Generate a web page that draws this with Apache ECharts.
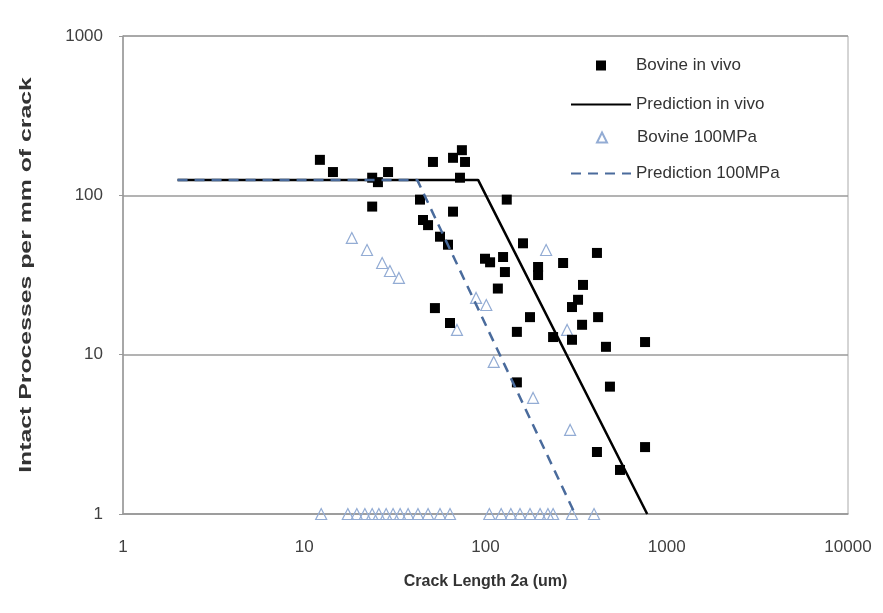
<!DOCTYPE html>
<html>
<head>
<meta charset="utf-8">
<title>Intact Processes per mm of crack</title>
<script src="https://cdn.jsdelivr.net/npm/echarts@6/dist/echarts.min.js"></script>
<style>
    html, body { margin: 0; padding: 0; background: #fff; }
    #box { width: 883px; height: 613px; }
</style>
</head>
<body>
<div id="box"></div>
<script>
// 数据：裂纹长度 2a (um) 与每毫米裂纹完整突起数
var bovineInVivo = [
    [12.2, 167], [14.4, 140], [23.7, 129], [25.5, 121], [29.0, 140], [23.7, 85],
    [51.3, 162], [74.1, 192], [66.2, 172], [77.1, 162], [72.3, 129], [43.5, 94],
    [66.2, 79], [45.2, 70], [48.2, 65], [56.1, 55], [62.1, 49], [131, 94],
    [161, 50], [99.4, 40], [106, 38], [125, 41], [128, 33], [117, 26],
    [195, 35.5], [195, 31.6], [268, 37.6], [412, 43.5], [345, 27.4], [324, 22.1],
    [300, 19.9], [418, 17.2], [341, 15.4], [236, 12.9], [300, 12.4], [462, 11.2],
    [759, 12.0], [52.6, 19.6], [63.7, 15.8], [176, 17.2], [149, 13.9], [149, 6.7],
    [486, 6.3], [412, 2.45], [759, 2.63], [552, 1.89]
];
var bovine100 = [
    [18.3, 54], [22.2, 45.4], [26.9, 37.6], [29.7, 33.5], [33.3, 30.3],
    [88.7, 22.7], [101, 20.5], [216, 45.4], [69.6, 14.3], [282, 14.3],
    [111, 9.0], [183, 5.35], [293, 3.37],
    [12.4, 1], [17.4, 1], [19.5, 1], [21.6, 1], [23.7, 1], [25.8, 1], [28.3, 1],
    [30.9, 1], [33.8, 1], [37.4, 1], [42.4, 1], [48.2, 1], [56.1, 1], [63.7, 1],
    [105, 1], [122, 1], [138, 1], [155, 1], [176, 1], [200, 1], [221, 1],
    [236, 1], [300, 1], [397, 1]
];
var predictionInVivo = [[2, 125], [91, 125], [780, 1]];
var prediction100 = [[2, 125], [42, 125], [312, 1]];
var seriesNames = ['Bovine in vivo', 'Prediction in vivo', 'Bovine 100MPa', 'Prediction 100MPa'];
var yTitle = 'Intact Processes per mm of crack';
var xTitle = 'Crack Length 2a (um)';

window.onload = function () {
    var myChart = echarts.init(document.getElementById('box'));
    var font = 'Liberation Sans, Arial, sans-serif';
    var legendText = { fontSize: 17, color: '#333', fontFamily: font };
    var legendTops = [52, 90, 124, 159];

    // 散点图例：图标窄，文字用 padding 对齐到线图例
    function pointLegend(i) {
        return {
            orient: 'vertical', left: 591, top: legendTops[i],
            itemWidth: 10, itemHeight: 10, itemGap: 0,
            textStyle: echarts.util.extend({ padding: [0, 0, 0, 25] }, legendText),
            data: [seriesNames[i]]
        };
    }
    // 线图例：隐藏折线图例里默认的圆点
    function lineLegend(i) {
        return {
            orient: 'vertical', left: 565, top: legendTops[i] + 1,
            itemWidth: 60, itemHeight: 12, itemGap: 0,
            itemStyle: { opacity: 0 },
            textStyle: legendText,
            data: [seriesNames[i]]
        };
    }

    var option = {
        backgroundColor: '#fff',
        textStyle: { fontFamily: font },
        grid: {
            left: 123, right: 35, top: 36, bottom: 99,
            show: true, borderColor: '#aaaaaa', borderWidth: 1
        },
        legend: [pointLegend(0), lineLegend(1), pointLegend(2), lineLegend(3)],
        graphic: [{
            type: 'text',
            x: 27, y: 275,
            rotation: Math.PI / 2,
            scaleX: 1.55,
            style: {
                text: yTitle,
                font: 'bold 16px Liberation Sans, Arial, sans-serif',
                fill: '#333',
                align: 'center',
                verticalAlign: 'middle'
            }
        }],
        xAxis: {
            type: 'log', logBase: 10, min: 1, max: 10000,
            name: xTitle,
            nameLocation: 'middle', nameGap: 60,
            nameTextStyle: { fontSize: 16, fontWeight: 'bold', color: '#333' },
            axisLine: { lineStyle: { color: '#999', width: 1.5 } },
            axisTick: { show: false },
            minorTick: { show: false },
            splitLine: { show: false },
            axisLabel: {
                fontSize: 17, color: '#404040', margin: 25,
                formatter: function (v) { return String(Math.round(v)); }
            }
        },
        yAxis: {
            type: 'log', logBase: 10, min: 1, max: 1000,
            axisLine: { show: true, lineStyle: { color: '#999', width: 1.5 } },
            axisTick: { show: true, length: 4, lineStyle: { color: '#999' } },
            splitLine: { show: true, lineStyle: { color: '#9a9a9a', width: 1.5 } },
            axisLabel: {
                fontSize: 17, color: '#404040', margin: 20,
                formatter: function (v) { return String(Math.round(v)); }
            }
        },
        series: [{
            name: seriesNames[0],
            type: 'scatter',
            symbol: 'rect',
            symbolSize: 10,
            itemStyle: { color: '#000', opacity: 1 },
            data: bovineInVivo,
            z: 3
        }, {
            name: seriesNames[1],
            type: 'line',
            symbol: 'none',
            lineStyle: { color: '#000', width: 2.5 },
            itemStyle: { color: '#000' },
            data: predictionInVivo,
            z: 4
        }, {
            name: seriesNames[2],
            type: 'scatter',
            symbol: 'triangle',
            symbolSize: 11,
            itemStyle: { color: 'rgba(255,255,255,0)', borderColor: '#93acd4', borderWidth: 1.2, opacity: 1 },
            data: bovine100,
            z: 2
        }, {
            name: seriesNames[3],
            type: 'line',
            symbol: 'none',
            lineStyle: { color: '#4a6b9c', width: 2.5, type: [10, 7] },
            itemStyle: { color: '#4a6b9c' },
            data: prediction100,
            z: 5
        }]
    };
    myChart.setOption(option);
};
</script>
</body>
</html>
